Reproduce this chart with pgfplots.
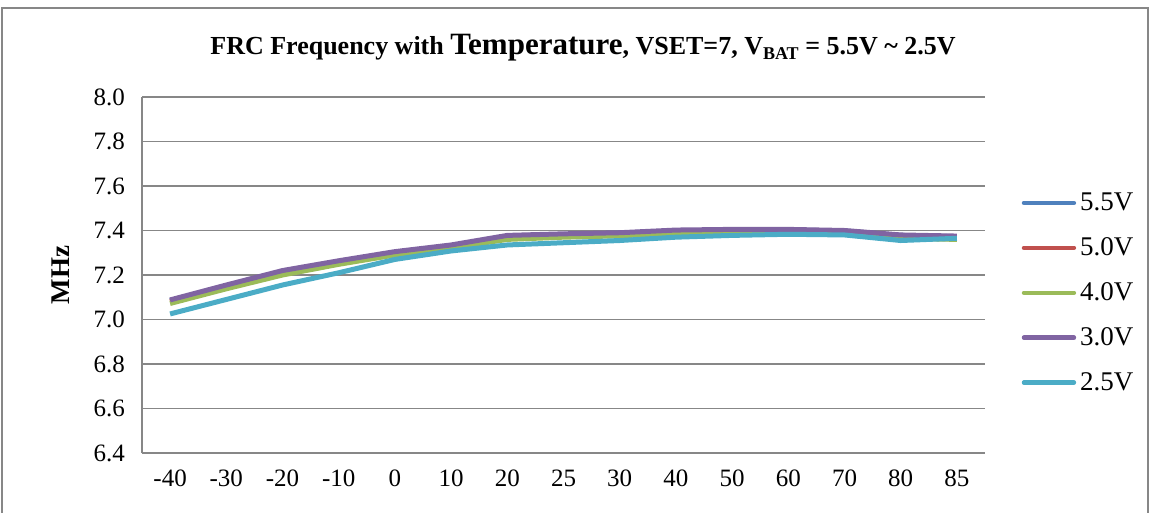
\documentclass[border=0pt]{standalone}
\usepackage{fontspec}
\setmainfont{Liberation Serif}
\usepackage{pgfplots}
\pgfplotsset{compat=1.18}
\definecolor{c55}{HTML}{4F81BD}
\definecolor{c50}{HTML}{C0504D}
\definecolor{c40}{HTML}{9BBB59}
\definecolor{c30}{HTML}{8064A2}
\definecolor{c25}{HTML}{4BACC6}
\definecolor{gridgray}{HTML}{878787}
\begin{document}
\begin{tikzpicture}
\useasboundingbox (0,0) rectangle (578pt,-256.5pt);
\draw[gridgray, line width=0.6pt] (1pt,-260pt) -- (1pt,-4pt) -- (574pt,-4pt) -- (574pt,-260pt);
\node[font=\bfseries\fontsize{13}{15}\selectfont, anchor=center] at (291.5pt,-24pt)
  {FRC Frequency with {\fontsize{15.5}{17}\selectfont Temperature}, VSET=7, V\raisebox{-0.35ex}{\fontsize{9}{10}\selectfont BAT} = 5.5V \textasciitilde{} 2.5V};
\begin{axis}[
  at={(71pt,-226.5pt)}, anchor=south west,
  scale only axis, width=421.5pt, height=178pt,
  xmin=-0.5, xmax=14.5, ymin=6.4, ymax=8.0,
  ytick={6.4,6.6,...,8.01},
  yticklabel style={/pgf/number format/fixed, /pgf/number format/fixed zerofill, /pgf/number format/precision=1},
  /pgf/number format/assume math mode=true,
  xtick={0,...,14},
  xticklabels={-40,-30,-20,-10,0,10,20,25,30,40,50,60,70,80,85},
  ticklabel style={font=\fontsize{12.5}{14}\selectfont},
  xticklabel style={yshift=-5pt},
  yticklabel style={xshift=-5pt},
  major tick length=0pt,
  ymajorgrids, grid style={gridgray, line width=0.6pt},
  axis x line*=bottom, axis y line*=left,
  x axis line style={draw=none},
  y axis line style={gridgray, line width=0.6pt},
  ylabel={\bfseries MHz},
  ylabel style={at={(axis description cs:-0.097,0.5)}, anchor=center, font=\fontsize{13.5}{15}\selectfont},
  legend style={at={(axis description cs:1.036,0.755)}, anchor=north west, draw=none, fill=none,
    font=\fontsize{13.5}{15}\selectfont, row sep=8pt, /tikz/every even column/.append style={column sep=2pt}},
  legend cell align=left,
  legend image code/.code={\draw[#1, line width=2.2pt, line cap=round] (0pt,0pt) -- (25pt,0pt);},
  every axis plot/.append style={line width=2.5pt, line join=round},
]
\addplot[c55] coordinates {(0,7.085)(1,7.150)(2,7.215)(3,7.258)(4,7.300)(5,7.330)(6,7.375)(7,7.382)(8,7.388)(9,7.398)(10,7.402)(11,7.402)(12,7.398)(13,7.378)(14,7.372)};
\addlegendentry{5.5V}
\addplot[c50] coordinates {(0,7.080)(1,7.145)(2,7.210)(3,7.255)(4,7.295)(5,7.325)(6,7.368)(7,7.376)(8,7.382)(9,7.393)(10,7.396)(11,7.396)(12,7.393)(13,7.370)(14,7.362)};
\addlegendentry{5.0V}
\addplot[c40] coordinates {(0,7.072)(1,7.138)(2,7.200)(3,7.248)(4,7.290)(5,7.322)(6,7.360)(7,7.370)(8,7.376)(9,7.388)(10,7.390)(11,7.390)(12,7.388)(13,7.365)(14,7.360)};
\addlegendentry{4.0V}
\addplot[c30] coordinates {(0,7.088)(1,7.155)(2,7.220)(3,7.264)(4,7.305)(5,7.335)(6,7.378)(7,7.385)(8,7.390)(9,7.402)(10,7.405)(11,7.405)(12,7.400)(13,7.380)(14,7.375)};
\addlegendentry{3.0V}
\addplot[c25] coordinates {(0,7.025)(1,7.090)(2,7.155)(3,7.210)(4,7.270)(5,7.308)(6,7.335)(7,7.345)(8,7.355)(9,7.370)(10,7.378)(11,7.383)(12,7.380)(13,7.355)(14,7.365)};
\addlegendentry{2.5V}
\end{axis}
\end{tikzpicture}
\end{document}
